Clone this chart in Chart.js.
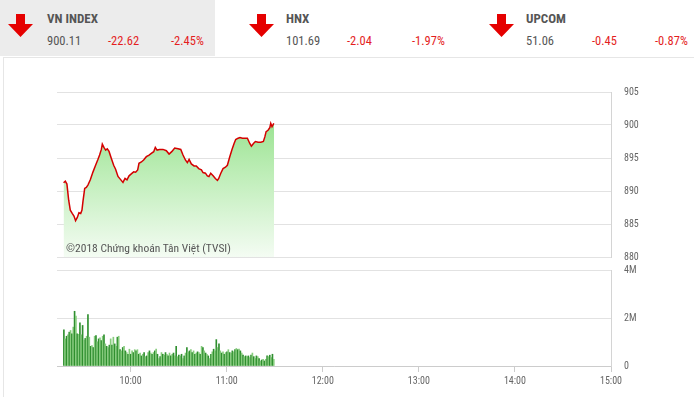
<!DOCTYPE html>
<html>
<head>
<meta charset="utf-8">
<script src="https://cdn.jsdelivr.net/npm/chart.js@4.4.1/dist/chart.umd.min.js"></script>
<style>
    body { margin: 0; background: #fff; }
    #wrap {
        position: relative; width: 694px; height: 397px; overflow: hidden;
        font-family: 'Roboto Condensed', 'Liberation Sans Narrow', 'Arial Narrow', 'DejaVu Sans Condensed', sans-serif;
        color: #555;
    }
    .index-box { position: absolute; top: 0; height: 56px; }
    .index-box.active { background: #ececec; }
    .arrow { position: absolute; top: 14px; }
    .name { position: absolute; top: 11px; font-size: 13px; font-weight: bold; color: #555; }
    .val { position: absolute; top: 33px; font-size: 12.5px; }
    .down { color: #e41e1e; }
    #frame {
        position: absolute; left: 3px; top: 57px; width: 691px; height: 340px;
        border-left: 1px solid #e6e6e6; border-top: 1px solid #e6e6e6;
    }
    canvas { position: absolute; left: 0; }
    #priceChart { top: 80px; }
    #volChart { top: 260px; }
    #credit { position: absolute; left: 66px; top: 241px; font-size: 11.5px; color: #555; }
</style>
</head>
<body>
<div id="wrap">
    <div id="frame"></div>
    <div id="header"></div>
    <canvas id="priceChart" width="694" height="190"></canvas>
    <canvas id="volChart" width="694" height="137"></canvas>
    <div id="credit">©2018 Chứng khoán Tân Việt (TVSI)</div>
</div>
<script>
// Header indices
const indexNames = ['VN INDEX', 'HNX', 'UPCOM'];
const indexValues = ['900.11', '101.69', '51.06'];
const indexChanges = ['-22.62', '-2.04', '-0.45'];
const indexPercents = ['-2.45%', '-1.97%', '-0.87%'];

// Time axis, minutes after 9:00
const axisStart = 14;
const axisEnd = 360;
const hourTicks = [60, 120, 180, 240, 300, 360];
const hourLabels = ['10:00', '11:00', '12:00', '13:00', '14:00', '15:00'];

// VN-Index intraday
const priceTimes = [18.1, 19.2, 20.2, 21.3, 22.3, 23.5, 24.6, 25.6, 26.7, 27.7, 28.8, 29.6, 30.2, 31.3, 32.3, 33.3, 34.8, 36.5, 38.1, 39.6,
    40.6, 41.7, 42.3, 43.3, 44.4, 45.4, 46.5, 47.9, 49.4, 50.6, 52.1, 53.5, 55.2, 56.5, 57.7, 59, 60.4, 61.9, 63.1, 64.4,
    65.2, 66.7, 68.1, 69.8, 71.5, 72.9, 74.4, 75.4, 76.5, 78.1, 80.2, 82.3, 84, 85.8, 87.5, 89.6, 91.3, 92.7, 94.2, 95.4,
    96.5, 97.9, 99.6, 101, 102.5, 104.2, 105.2, 106.7, 107.9, 108.9, 110, 111.5, 112.9, 114.2, 115, 116.3, 117.7, 119.2, 120.4, 121.9,
    123.3, 124.6, 125.6, 127.1, 128.3, 129.8, 131.3, 132.9, 134.4, 135.4, 136.7, 137.9, 139.6, 141.3, 142.9, 143.8, 144.6, 145.8, 146.9, 147.5,
    148.3, 149.2, 149.6];
const priceValues = [891.26, 891.5, 891.05, 888.6, 887.1, 886.6, 886.2, 885.5, 886, 886.7, 886.6, 887.1, 888.4, 890.4, 890.55, 890.9, 891.7, 892.9, 893.9, 894.8,
    895.45, 896.3, 897.1, 896.6, 896.2, 896.4, 896, 894.95, 893.9, 893.3, 892.2, 891.8, 891.3, 891.9, 891.7, 892.3, 892.6, 892.9, 892.85, 893.2,
    894.2, 894.4, 894.7, 895.2, 895.45, 895.7, 895.95, 896.6, 896.2, 896.3, 896.3, 896.1, 895.6, 896, 896.5, 896.4, 896.3, 895.45, 894.7, 894.3,
    894.8, 894.1, 893.8, 893.8, 893.4, 893.2, 892.8, 892.7, 892.3, 892.2, 892.7, 892.3, 891.9, 891.6, 891.9, 892.7, 893.4, 893.6, 893.9, 895.2,
    896.3, 897.2, 897.8, 898, 898.1, 898, 898, 898, 897.2, 896.8, 897.2, 897.5, 897.4, 897.4, 897.5, 898.2, 899, 899.2, 899.6, 900.25,
    899.75, 900.15, 900.11];
const priceTicks = [880, 885, 890, 895, 900, 905];

// Matched volume (millions), one bar per interval
const volFirstMinute = 18.3;
const volStepMinutes = 0.835;
const volumes = [1.51, 1.13, 1.24, 1.30, 1.41, 1.48, 1.34, 1.62, 2.28, 2.08, 1.34, 1.32, 1.80, 1.30, 1.69, 1.08, 1.15, 1.24, 2.14, 1.20,
    0.82, 0.85, 0.77, 1.24, 1.27, 1.01, 1.13, 1.17, 1.06, 1.24, 1.30, 0.92, 0.82, 0.77, 0.87, 1.13, 0.87, 1.20, 0.92, 0.82,
    1.20, 1.24, 0.68, 0.63, 0.77, 0.82, 0.63, 0.56, 0.49, 0.70, 0.49, 0.63, 0.56, 0.68, 0.63, 0.68, 0.49, 0.54, 0.42, 0.49,
    0.56, 0.39, 0.42, 0.56, 0.63, 0.54, 0.49, 0.56, 0.63, 0.70, 0.49, 0.31, 0.39, 0.56, 0.49, 0.45, 0.56, 0.49, 0.42, 0.54,
    0.42, 0.49, 0.54, 0.42, 0.82, 0.39, 0.45, 0.42, 0.49, 0.31, 0.42, 0.54, 0.77, 0.59, 0.63, 0.68, 0.56, 0.63, 0.49, 0.54,
    0.59, 0.56, 0.49, 0.82, 0.77, 0.63, 0.54, 0.49, 0.42, 0.31, 0.49, 0.59, 0.70, 0.63, 1.10, 0.77, 0.92, 0.63, 0.54, 0.59,
    0.49, 0.56, 0.59, 0.68, 0.56, 0.54, 0.63, 0.59, 0.68, 0.73, 0.68, 0.70, 0.63, 0.54, 0.45, 0.39, 0.42, 0.39, 0.42, 0.35,
    0.45, 0.54, 0.39, 0.31, 0.42, 0.39, 0.31, 0.21, 0.25, 0.28, 0.21, 0.28, 0.42, 0.39, 0.45, 0.35, 0.49, 0.28];
const volTicks = [0, 2, 4];
const volLabels = ['0', '2M', '4M'];

const FONT = "'Roboto Condensed', 'Liberation Sans Narrow', 'Arial Narrow', 'DejaVu Sans Condensed', sans-serif";
const AXIS_WIDTH = 83;

// Build header
const arrowSvg = '<svg width="25" height="23" viewBox="0 0 25 23"><path d="M8 0 H17 V10 H25 L12.5 23 L0 10 H8 Z" fill="#e50000"/></svg>';
const boxLefts = [0, 240, 480];
const boxWidths = [215, 240, 214];
const header = document.getElementById('header');
indexNames.forEach((name, i) => {
    const box = document.createElement('div');
    box.className = 'index-box' + (i === 0 ? ' active' : '');
    box.style.left = boxLefts[i] + 'px';
    box.style.width = boxWidths[i] + 'px';
    box.innerHTML =
        `<div class="arrow" style="left:${i === 0 ? 8 : 9}px">${arrowSvg}</div>` +
        `<div class="name" style="left:${i === 0 ? 47 : 46}px">${name}</div>` +
        `<div class="val" style="left:${i === 0 ? 47 : 46}px">${indexValues[i]}</div>` +
        `<div class="val down" style="left:${i === 0 ? 108 : [0, 107, 112][i]}px">${indexChanges[i]}</div>` +
        `<div class="val down" style="left:${[171, 172, 175][i]}px">${indexPercents[i]}</div>`;
    header.appendChild(box);
});

// right-hand value axis shared settings (invisible tick marks push labels out)
function rightAxis(ticks, labels) {
    return {
        position: 'right',
        min: ticks[0],
        max: ticks[ticks.length - 1],
        afterBuildTicks: (s) => { s.ticks = ticks.map(v => ({ value: v })); },
        afterFit: (s) => { s.width = AXIS_WIDTH; },
        grid: { color: '#e2e2e2', drawTicks: true, tickLength: 13, tickColor: 'rgba(0,0,0,0)' },
        border: { color: '#d4d4d4' },
        ticks: {
            padding: 0, color: '#666', font: { size: 10, family: FONT },
            callback: (v, i) => labels[i]
        }
    };
}

// Price chart
new Chart(document.getElementById('priceChart'), {
    type: 'line',
    data: {
        datasets: [{
            data: priceTimes.map((t, i) => ({ x: t, y: priceValues[i] })),
            borderColor: '#d40000',
            borderWidth: 1.5,
            pointRadius: 0,
            tension: 0,
            fill: 'start',
            backgroundColor: (ctx) => {
                const area = ctx.chart.chartArea;
                if (!area) return 'rgba(140,224,130,0.6)';
                const g = ctx.chart.ctx.createLinearGradient(0, area.top, 0, area.bottom);
                g.addColorStop(0, '#86dd7c');
                g.addColorStop(0.45, '#b9ecb2');
                g.addColorStop(1, '#f4fcf3');
                return g;
            }
        }]
    },
    options: {
        responsive: false,
        animation: false,
        layout: { padding: { left: 57, top: 12, bottom: 13, right: 0 } },
        plugins: { legend: { display: false }, tooltip: { enabled: false } },
        scales: {
            x: { type: 'linear', min: axisStart, max: axisEnd, display: false },
            y: rightAxis(priceTicks, priceTicks.map(String))
        }
    }
});

// Volume chart
new Chart(document.getElementById('volChart'), {
    type: 'bar',
    data: {
        datasets: [{
            data: volumes.map((v, i) => ({ x: volFirstMinute + i * volStepMinutes, y: v })),
            backgroundColor: volumes.map((v, i) => (i % 2 === 0 ? '#2f8f2f' : '#86cc7c')),
            barThickness: 1
        }]
    },
    options: {
        responsive: false,
        animation: false,
        layout: { padding: { left: 57, top: 10, bottom: 6, right: 0 } },
        plugins: { legend: { display: false }, tooltip: { enabled: false } },
        scales: {
            x: {
                type: 'linear',
                min: axisStart,
                max: axisEnd,
                offset: false,
                afterBuildTicks: (s) => { s.ticks = hourTicks.map(v => ({ value: v })); },
                afterFit: (s) => { s.height = 25; },
                grid: { offset: false, drawOnChartArea: false, tickLength: 6, color: '#cccccc' },
                border: { color: '#cccccc' },
                ticks: {
                    autoSkip: false, maxRotation: 0, padding: 3, color: '#666',
                    font: { size: 10, family: FONT },
                    callback: (v, i) => hourLabels[i]
                }
            },
            y: rightAxis(volTicks, volLabels)
        }
    }
});
</script>
</body>
</html>
